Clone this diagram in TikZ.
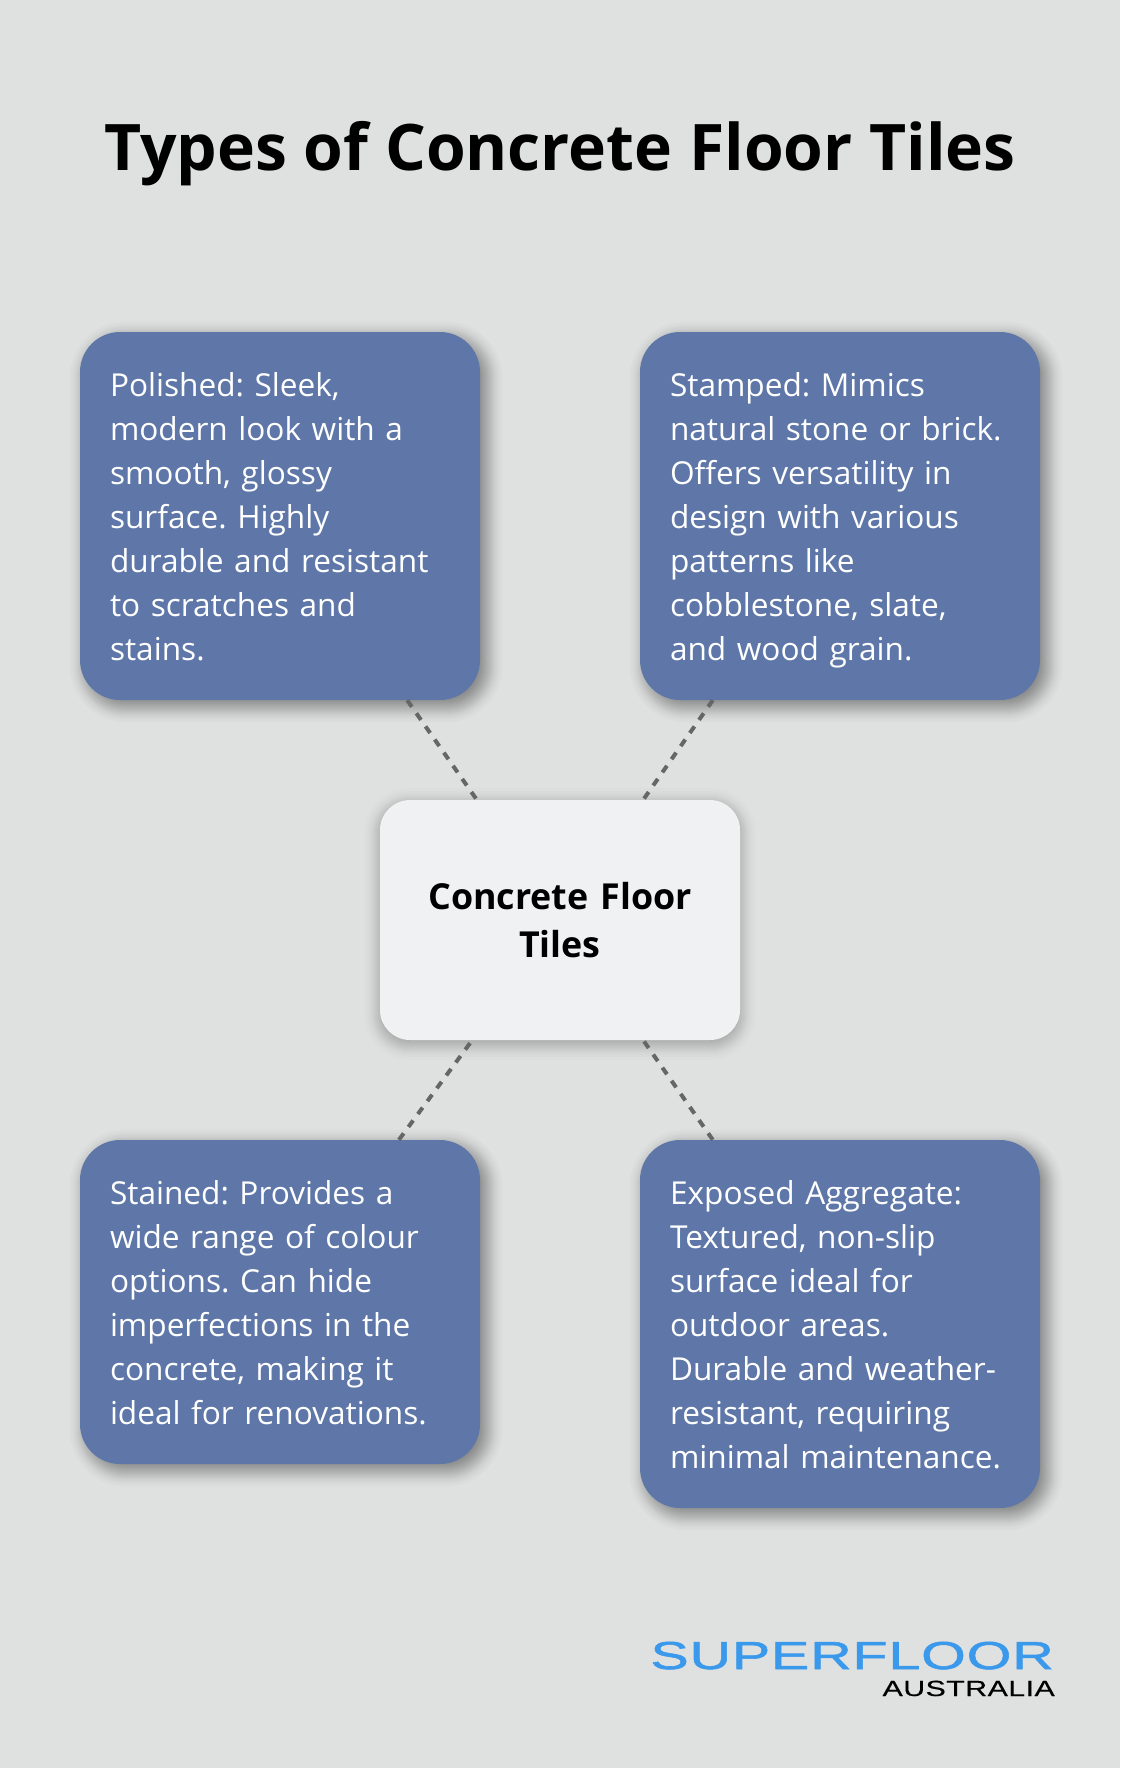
\documentclass[tikz,border=0pt]{standalone}
\usepackage{fontspec}
\setmainfont{Open Sans}
\newfontfamily\brandfont[FakeStretch=1.475,LetterSpace=2,FakeBold=1.5]{Liberation Sans}
\newfontfamily\brandsubfont[FakeStretch=1.38,LetterSpace=2,FakeBold=0.3]{Liberation Sans}
\usetikzlibrary{backgrounds,calc}
\definecolor{pagegray}{HTML}{DFE1E0}
\definecolor{tileblue}{HTML}{5E77A8}
\definecolor{tilewhite}{HTML}{EFF1F3}
\definecolor{linkgray}{HTML}{666666}
\definecolor{brandblue}{HTML}{3B99EC}
\newcommand{\tilestrut}{\rule[-9.7pt]{0pt}{44pt}}
\tikzstyle{tilebox}=[fill=tileblue,rounded corners=40pt,inner sep=0pt,minimum width=400pt,text width=340pt,align=left,text=white,font=\fontsize{31.6}{44}\selectfont\frenchspacing]
\tikzstyle{hubbox}=[fill=tilewhite,rounded corners=30pt,inner sep=0pt,minimum width=360pt,minimum height=240pt,text width=300pt,align=center,font=\fontsize{35.8}{48}\selectfont\bfseries]
\tikzstyle{linkline}=[draw=linkgray,line width=4pt,dash pattern=on 8pt off 8pt]

\begin{document}
\begin{tikzpicture}[x=1pt,y=-1pt]
\useasboundingbox (0,0) rectangle (1120,1768);

\node[font=\fontsize{64.2}{76}\selectfont\bfseries] (title) at (560,154) {Types of Concrete Floor Tiles};

\node[tilebox,minimum height=368pt] (polished) at (280,516) {\tilestrut Polished: Sleek,\\modern look with a\\smooth, glossy\\surface. Highly\\durable and resistant\\to scratches and\\stains.\tilestrut};
\node[tilebox,minimum height=368pt] (stamped) at (840,516) {\tilestrut Stamped: Mimics\\natural stone or brick.\\Offers versatility in\\design with various\\patterns like\\cobblestone, slate,\\and wood grain.\tilestrut};
\node[tilebox,minimum height=324pt] (stained) at (280,1302) {\tilestrut Stained: Provides a\\wide range of colour\\options. Can hide\\imperfections in the\\concrete, making it\\ideal for renovations.\tilestrut};
\node[tilebox,minimum height=368pt] (exposed) at (840,1324) {\tilestrut Exposed Aggregate:\\Textured, non-slip\\surface ideal for\\outdoor areas.\\Durable and weather-\\resistant, requiring\\minimal maintenance.\tilestrut};
\node[hubbox] (tiles) at (560,920) {Concrete Floor\\Tiles};

\draw[linkline] (polished) -- (tiles);
\draw[linkline] (stamped) -- (tiles);
\draw[linkline] (stained) -- (tiles);
\draw[linkline] (exposed) -- (tiles);

\node[anchor=base east,inner sep=0pt,text=brandblue,font=\brandfont\fontsize{39}{39}\selectfont] (brandname) at (1054,1669) {SUPERFLOOR};
\node[anchor=base east,inner sep=0pt,text=black,font=\brandsubfont\fontsize{22}{22}\selectfont] (brandsub) at (1055,1696) {AUSTRALIA};

\begin{scope}[on background layer]
\fill[pagegray] (0,0) rectangle (1120,1768);
\foreach \boxname/\baser/\shiftx/\shifty/\boxalpha in {polished/40/6/6/0.02,stamped/40/6/6/0.02,stained/40/6/6/0.02,exposed/40/6/6/0.02,tiles/30/0/4/0.012}{
	\foreach \spread in {-16,-13,-11,-9,-8,-7,-6,-5,-4,-3,-2,-1,0,1,2,3,4,5,6,7,8,9,11,13,16}{
		\pgfmathsetmacro{\cornerr}{max(\baser+\spread,6)}
		\fill[black,fill opacity=\boxalpha,rounded corners=\cornerr pt] ($(\boxname.north west)+(\shiftx-\spread,\shifty-\spread)$) rectangle ($(\boxname.south east)+(\shiftx+\spread,\shifty+\spread)$);
	}
}
\end{scope}
\end{tikzpicture}
\end{document}
